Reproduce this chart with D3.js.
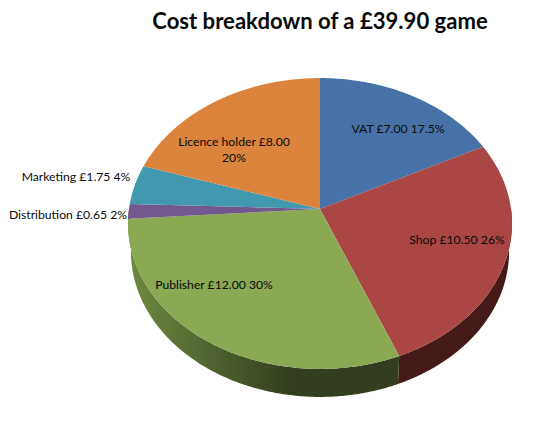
<!DOCTYPE html>
<html lang="en">
<head>
<meta charset="UTF-8">
<title>Cost breakdown of a £39.90 game</title>
<style>
    html, body { margin: 0; padding: 0; background: #fff; }
    svg { display: block; }
    text { font-family: Lato, "Open Sans", sans-serif; fill: #0a0a0a; }
</style>
<script src="https://d3js.org/d3.v7.min.js"></script>
</head>
<body>
<div id="chart"></div>
<script>
const titleText = "Cost breakdown of a £39.90 game";
const categories = ["VAT", "Shop", "Publisher", "Distribution", "Marketing", "Licence holder"];
const amounts = [7.00, 10.50, 12.00, 0.65, 1.75, 8.00];
const percentLabels = ["17.5%", "26%", "30%", "2%", "4%", "20%"];
const topColors = ["#4672a8", "#aa4644", "#8ba853", "#71588f", "#4198af", "#db843d"];
const wallStart = ["#2c4567", "#451a18", "#6f8a40", "#4a3a5e", "#2a6373", "#8c5427"];
const wallEnd = ["#2c4567", "#451a18", "#323e1f", "#4a3a5e", "#2a6373", "#8c5427"];

const width = 548, height = 424;
const cx = 320, cy = 209;     // where the slices meet
const rx = 191, ry = 144;     // scale of the pie on the page
const persp = 0.0996;         // far edge is squeezed, near edge stretched
const depth = 28, shrink = 0.985;

const svg = d3.select("#chart").append("svg")
    .attr("width", width)
    .attr("height", height);

// circle angle (0 = up, clockwise) to page position
function project(angle, r) {
    const u = Math.sin(angle) * r, v = Math.cos(angle) * r;
    const w = 1 + persp * v;
    return [cx + rx * u / w, cy - ry * v / w];
}

function lowerEdge(angle) {
    const p = project(angle, 1);
    return [cx + (p[0] - cx) * shrink, p[1] + depth];
}

function angleSteps(a0, a1) {
    const n = Math.max(2, Math.ceil((a1 - a0) / 0.01));
    return d3.range(n + 1).map(i => a0 + (a1 - a0) * i / n);
}

const line = d3.line();
const arcs = d3.pie().sort(null)(amounts);
const defs = svg.append("defs");

// side wall, only the near half of the pie shows it
const visible = [Math.PI / 2, Math.PI * 1.5];
arcs.forEach((d, i) => {
    const a0 = Math.max(d.startAngle, visible[0]);
    const a1 = Math.min(d.endAngle, visible[1]);
    if (a1 <= a0) return;
    const steps = angleSteps(a0, a1);
    const outline = steps.map(a => project(a, 1))
        .concat(steps.slice().reverse().map(lowerEdge));
    const xs = outline.map(p => p[0]);
    const grad = defs.append("linearGradient")
        .attr("id", "wall" + i)
        .attr("gradientUnits", "userSpaceOnUse")
        .attr("x1", d3.min(xs)).attr("x2", d3.max(xs))
        .attr("y1", 0).attr("y2", 0);
    grad.append("stop").attr("offset", 0).attr("stop-color", wallStart[i]);
    grad.append("stop").attr("offset", 0.6).attr("stop-color", wallEnd[i]);
    grad.append("stop").attr("offset", 1).attr("stop-color", wallEnd[i]);
    svg.append("path")
        .attr("d", line(outline) + "Z")
        .attr("fill", "url(#wall" + i + ")");
});

// top face
svg.append("g").selectAll("path")
    .data(arcs)
    .enter().append("path")
    .attr("d", d => line([[cx, cy]].concat(angleSteps(d.startAngle, d.endAngle).map(a => project(a, 1)))) + "Z")
    .attr("fill", (d, i) => topColors[i]);

// labels: value text first, split where the original wraps
const labels = categories.map((c, i) => {
    const money = "£" + amounts[i].toFixed(2);
    return c === "Licence holder"
        ? [c + " " + money, percentLabels[i]]
        : [c + " " + money + " " + percentLabels[i]];
});
const labelPos = [[398, 129], [457, 240], [214, 285], [68, 215], [76, 177], [234, 142]];

svg.append("g").selectAll("text")
    .data(labels)
    .enter().append("text")
    .attr("transform", (d, i) => `translate(${labelPos[i]})`)
    .attr("text-anchor", "middle")
    .attr("font-size", 12.2)
    .selectAll("tspan")
    .data(d => d)
    .enter().append("tspan")
    .attr("x", 0)
    .attr("dy", (d, i) => i ? 16 : 4)
    .text(d => d);

svg.append("text")
    .attr("x", 320)
    .attr("y", 29)
    .attr("text-anchor", "middle")
    .attr("font-size", 22.1)
    .attr("font-weight", 700)
    .text(titleText);
</script>
</body>
</html>
